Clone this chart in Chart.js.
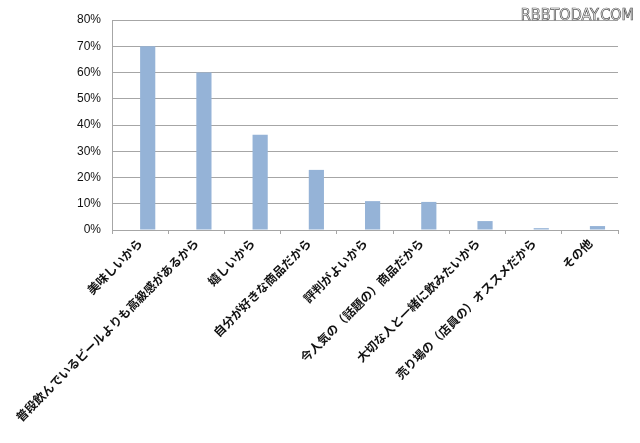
<!DOCTYPE html>
<html>
<head>
<meta charset="utf-8">
<script src="https://cdn.jsdelivr.net/npm/chart.js@4.4.0/dist/chart.umd.min.js"></script>
<style>
  html, body { margin: 0; padding: 0; background: #fff; }
  #wrap { position: relative; width: 640px; height: 443px; }
</style>
</head>
<body>
<div id="wrap"><canvas id="myGraph" width="640" height="443"></canvas></div>
<script>
const labels = [
  "美味しいから",
  "普段飲んでいるビールよりも高級感があるから",
  "嬉しいから",
  "自分が好きな商品だから",
  "評判がよいから",
  "今人気の（話題の）商品だから",
  "大切な人と一緒に飲みたいから",
  "売り場の（店員の）オススメだから",
  "その他"
];
const values = [70, 60, 36.3, 22.9, 11.0, 10.7, 3.4, 0.7, 1.5];
const yTicks = [0, 10, 20, 30, 40, 50, 60, 70, 80];

const watermark = {
  id: "watermark",
  afterDraw(chart) {
    const ctx = chart.ctx;
    ctx.save();
    ctx.font = "16px 'DejaVu Sans Condensed', 'DejaVu Sans'";
    ctx.textAlign = "right";
    ctx.textBaseline = "alphabetic";
    ctx.lineWidth = 0.7;
    ctx.strokeStyle = "#555";
    ctx.strokeText("RBBTODAY.COM", 634, 20);
    ctx.restore();
  }
};

const chartEl = document.getElementById("myGraph");
new Chart(chartEl, {
  type: "bar",
  data: {
    labels: labels,
    datasets: [
      // empty first series: keeps the bars to the right of each category centre
      { label: "", data: [], backgroundColor: "rgba(0,0,0,0)" },
      {
        label: "回答",
        data: values,
        backgroundColor: "#95b3d7",
        borderWidth: 0,
        categoryPercentage: 0.54,
        barPercentage: 1.0
      }
    ]
  },
  options: {
    responsive: false,
    animation: false,
    datasets: { bar: { categoryPercentage: 0.54, barPercentage: 1.0 } },
    layout: { padding: { top: 20, right: 22, left: 0, bottom: 0 } },
    plugins: {
      legend: { display: false },
      tooltip: { enabled: false }
    },
    scales: {
      x: {
        grid: {
          offset: true,
          drawOnChartArea: false,
          drawTicks: true,
          tickLength: 4,
          color: "#a6a6a6"
        },
        border: { display: true, color: "#a6a6a6" },
        ticks: {
          autoSkip: false,
          maxRotation: 45,
          minRotation: 45,
          padding: 2,
          color: "#111",
          font: { family: "'Noto Sans CJK JP'", size: 12, weight: "bold" }
        },
        afterFit(scale) { scale.height = 213; }
      },
      y: {
        min: 0,
        max: 80,
        afterBuildTicks(scale) {
          scale.ticks = yTicks.map(v => ({ value: v }));
        },
        grid: { color: "#a6a6a6", drawTicks: false },
        border: { display: true, color: "#a6a6a6" },
        ticks: {
          padding: 11,
          color: "#111",
          font: { family: "Arial, 'Liberation Sans'", size: 12 },
          callback: v => v + "%"
        },
        afterFit(scale) { scale.width = 112; }
      }
    }
  },
  plugins: [watermark]
});
</script>
</body>
</html>
